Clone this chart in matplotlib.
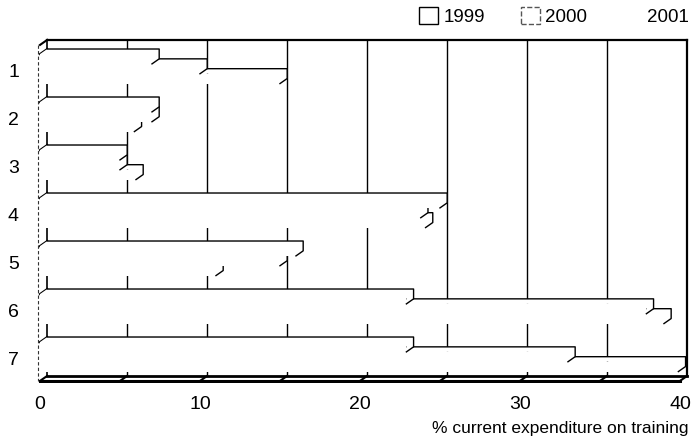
import matplotlib
matplotlib.use("Agg")
import matplotlib.pyplot as plt
from matplotlib.patches import Polygon, Patch

plt.rcParams['font.family'] = ['Liberation Sans', 'DejaVu Sans']

# data
categories = ['1', '2', '3', '4', '5', '6', '7']
years = ['1999', '2000', '2001']
v1999 = [7.0, 7.0, 5.0, 25.0, 16.0, 22.9, 22.9]
v2000 = [10.0, 7.0, 5.0, 23.8, 15.0, 37.9, 33.0]
v2001 = [15.0, 5.9, 6.0, 24.1, 11.0, 39.0, 39.9]
x_ticks = [0, 10, 20, 30, 40]
grid_x = [5, 10, 15, 20, 25, 30, 35]
floor_ticks = [0, 5, 10, 15, 20, 25, 30, 35, 40]
xlabel = '% current expenditure on training'

series = [v1999, v2000, v2001]

# fake 3d geometry (data units)
dx = 0.45      # depth shift along x
dy = 0.105     # depth shift along y (screen up)
h = 0.205      # bar thickness
wall_top = -0.19
floor_b = 6.81
xmax = 40

fig = plt.figure(figsize=(6.91, 4.44), dpi=100)
ax = fig.add_axes([30/691, 61/444, 661/691, 353/444])
ax.set_xlim(-0.625, 40.69)
ax.set_ylim(6.958, -0.396)

# back wall
ax.plot([dx, xmax+dx], [wall_top, wall_top], color='k', lw=1.6, zorder=1)
ax.plot([xmax+dx, xmax+dx], [wall_top, floor_b], color='k', lw=1.6, zorder=1)
for g in grid_x:
    ax.plot([g+dx, g+dx], [wall_top, floor_b], color='k', lw=1, zorder=1)

# left wall
ax.plot([dx, dx], [wall_top, floor_b], color='k', lw=1.2, zorder=1)
ax.plot([dx, 0], [wall_top, wall_top+dy], color='k', lw=1.5, zorder=1)
for k in range(len(categories)):
    ax.plot([dx, 0], [k, k+dy], color='k', lw=1.5, zorder=1)

# floor
ax.plot([dx, xmax+dx], [floor_b, floor_b], color='k', lw=2, zorder=50)
ax.plot([0, xmax], [floor_b+dy, floor_b+dy], color='k', lw=2.2, zorder=50)
for t in floor_ticks:
    ax.plot([t, t+dx], [floor_b+dy, floor_b], color='k', lw=1.5, zorder=50)

# bars, drawn bottom to top so upper ones hide the lower ones
z = 2
for k in reversed(range(len(categories))):
    for i in reversed(range(len(series))):
        v = series[i][k]
        yf = k + i*h + dy
        faces = [
            [(0, yf), (v, yf), (v, yf+h), (0, yf+h)],
            [(0, yf), (v, yf), (v+dx, yf-dy), (dx, yf-dy)],
            [(v, yf), (v, yf+h), (v+dx, yf+h-dy), (v+dx, yf-dy)],
        ]
        for f in faces:
            ax.add_patch(Polygon(f, closed=True, fc='white', ec='none', zorder=z))
        ax.plot([dx, v+dx, v+dx, v], [yf-dy, yf-dy, yf+h-dy, yf+h],
                color='k', lw=1, zorder=z+0.5)
        z += 1

# front edge of left wall
ax.plot([-0.15, -0.15], [wall_top+dy, floor_b+dy], color='#333333', lw=0.8,
        ls=(0, (3, 2)), zorder=60)

ax.set_xticks(x_ticks)
ax.set_xticklabels([str(t) for t in x_ticks])
ax.set_yticks([k + 0.45 for k in range(len(categories))])
ax.set_yticklabels(categories)
ax.tick_params(axis='x', length=0, pad=9, labelsize=14)
ax.tick_params(axis='y', length=0, pad=8, labelsize=14)
for s in ax.spines.values():
    s.set_visible(False)

fig.text(688/691, 1 - 433/444, xlabel, ha='right', va='baseline', fontsize=12.5)

handles = [Patch(fc='white', ec='black', lw=1),
           Patch(fc='white', ec='#555555', lw=1, ls='--'),
           Patch(fc='white', ec='white', lw=1)]
fig.legend(handles, years, loc='upper right', bbox_to_anchor=(689/691, 1 - 7/444),
           ncol=3, frameon=False, fontsize=13.5, handlelength=1.0, handleheight=1.0,
           handletextpad=0.3, columnspacing=1.9, borderpad=0, borderaxespad=0)

fig.savefig('out.png', dpi=100)
